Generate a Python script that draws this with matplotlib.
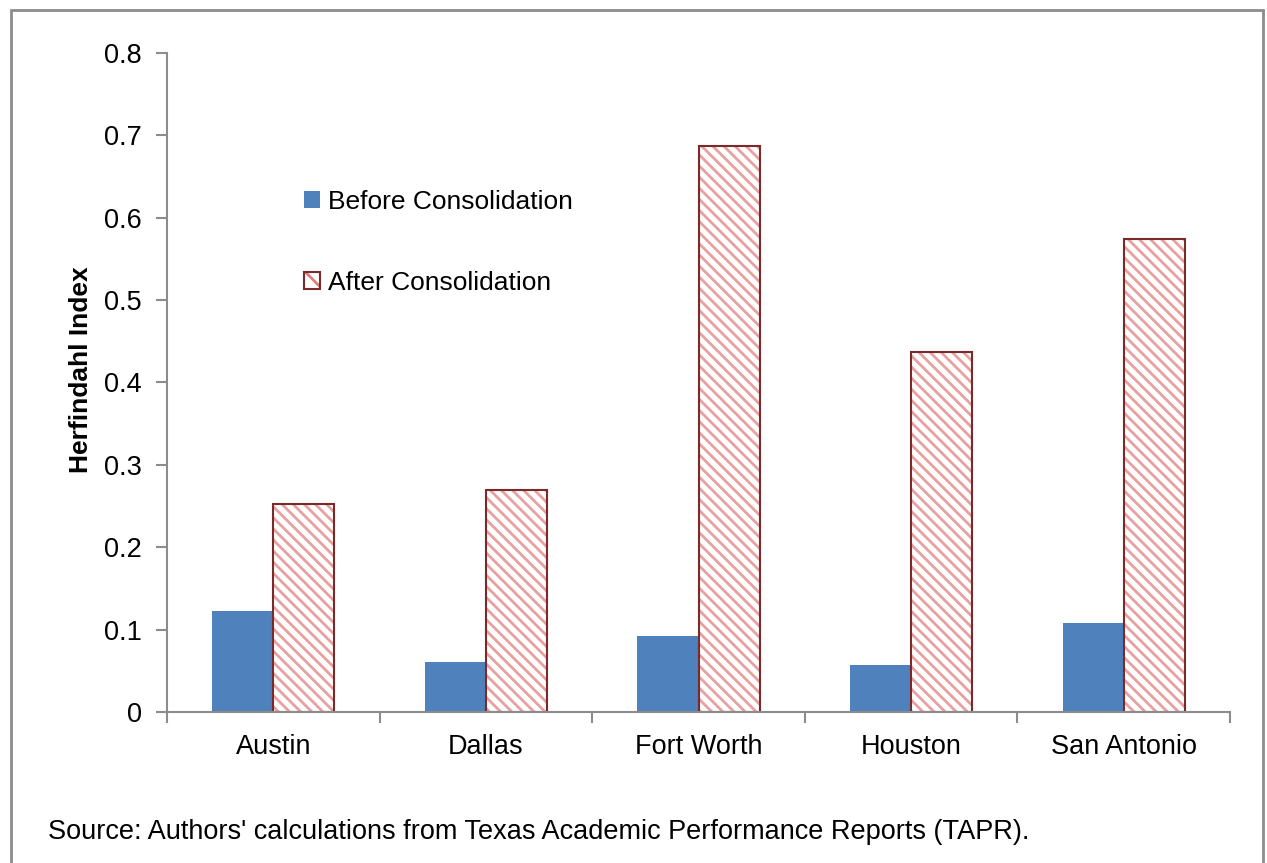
import numpy as np
import matplotlib.pyplot as plt
from matplotlib.patches import Rectangle
from matplotlib.legend_handler import HandlerTuple

plt.rcParams['font.family'] = ['Liberation Sans', 'DejaVu Sans']
plt.rcParams['hatch.linewidth'] = 2.0

cities = ['Austin', 'Dallas', 'Fort Worth', 'Houston', 'San Antonio']
before = [0.123, 0.061, 0.092, 0.057, 0.108]
after = [0.253, 0.269, 0.687, 0.437, 0.574]
yticks = [0, 0.1, 0.2, 0.3, 0.4, 0.5, 0.6, 0.7, 0.8]

blue = '#4F81BD'
hatch_red = '#e8a0a0'
dark_red = '#7b2a2a'
fs = 19.5

fig = plt.figure(figsize=(12.67, 8.63), dpi=100)
# outer chart border
fig.patches.append(Rectangle((11 / 1267, -0.1), (1263 - 11) / 1267, 1 - 10 / 863 + 0.1,
                             transform=fig.transFigure, fill=False,
                             edgecolor='#8c8c8c', linewidth=2))

ax = fig.add_axes([167 / 1267, 1 - 712 / 863, (1230 - 167) / 1267, (712 - 53) / 863])

x = np.arange(len(cities))
w = 0.287
ax.bar(x - w / 2, before, w, color=blue)
ax.bar(x + w / 2, after, w, facecolor='white', edgecolor=hatch_red, hatch='\\\\\\', linewidth=0)
# dark outline on the hatched bars
ax.bar(x + w / 2, after, w, fill=False, edgecolor=dark_red, linewidth=1.5)

ax.set_xlim(-0.5, len(cities) - 0.5)
ax.set_ylim(0, 0.8)
ax.set_yticks(yticks)
ax.set_yticklabels([f'{v:g}' for v in yticks])
ax.set_xticks(x)
ax.set_xticklabels(cities)
ax.set_xticks(np.arange(-0.5, len(cities)), minor=True)
ax.tick_params(axis='x', which='major', length=0, pad=16, labelsize=fs)
ax.tick_params(axis='x', which='minor', length=8, width=1.5, color='#8c8c8c', direction='out')
ax.tick_params(axis='y', length=8, width=1.5, color='#8c8c8c', direction='out', pad=10, labelsize=fs)

for s in ['top', 'right']:
    ax.spines[s].set_visible(False)
for s in ['left', 'bottom']:
    ax.spines[s].set_color('#8c8c8c')
    ax.spines[s].set_linewidth(1.5)

ax.set_ylabel('Herfindahl Index', fontsize=19, fontweight='bold')
ax.yaxis.set_label_coords(-0.0696, 0.519)

h_before = Rectangle((0, 0), 1, 1, facecolor=blue)
h_hatch = Rectangle((0, 0), 1, 1, facecolor='white', edgecolor='#d98080', hatch='\\', linewidth=0)
h_edge = Rectangle((0, 0), 1, 1, fill=False, edgecolor=dark_red, linewidth=1.5)
ax.legend([h_before, (h_hatch, h_edge)], ['Before Consolidation', 'After Consolidation'],
          handler_map={tuple: HandlerTuple(ndivide=1)},
          loc='upper left', bbox_to_anchor=(0.1194, 0.808), frameon=False, fontsize=19,
          handlelength=0.6, handleheight=0.6, handletextpad=0.3, labelspacing=2.15,
          borderaxespad=0)

fig.text(48 / 1267, 1 - 832 / 863, "Source: Authors' calculations from Texas Academic Performance Reports (TAPR).",
         fontsize=fs, va='center', ha='left')

fig.savefig('out.png', dpi=100)
